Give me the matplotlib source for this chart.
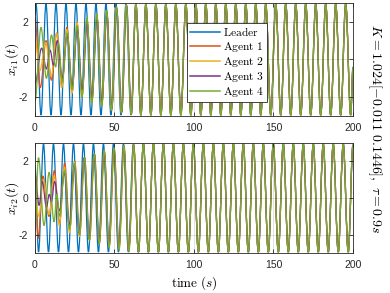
import matplotlib
matplotlib.use("Agg")
import matplotlib.pyplot as plt
from matplotlib.path import Path
from matplotlib.patches import PathPatch
from matplotlib.lines import Line2D

plt.rcParams["mathtext.fontset"] = "cm"
plt.rcParams["font.family"] = ["Liberation Sans", "DejaVu Sans"]
plt.rcParams["axes.unicode_minus"] = False

COLORS = ["#0072BD", "#D95319", "#EDB120", "#7E2F8E", "#77AC30"]
LABELS = ["Leader", "Agent 1", "Agent 2", "Agent 3", "Agent 4"]

# leader, x_01: turning points (t in s)
LEAD1_T = [0, 0.65, 3.79, 6.93, 10.07, 13.22, 16.36, 19.50, 22.64, 25.78, 28.92,
           32.07, 35.21, 38.35, 41.49, 44.63, 47.77, 50.92, 54.06, 57.20, 60.34,
           63.48, 66.62, 69.77, 72.91, 76.05, 79.19, 82.33, 85.47, 88.61, 91.76,
           94.90, 98.04, 101.18, 104.32, 107.46, 110.61, 113.75, 116.89, 120.03,
           123.17, 126.31, 129.46, 132.60, 135.74, 138.88, 142.02, 145.16, 148.30,
           151.45, 154.59, 157.73, 160.87, 164.01, 167.15, 170.30, 173.44, 176.58,
           179.72, 182.86, 186.00, 189.15, 192.29, 195.43, 198.57, 200]
LEAD1_V = [2.35] + [2.95, -2.95] * 32 + [-0.4]

# leader, x_02
LEAD2_T = [0, 2.22, 5.36, 8.50, 11.64, 14.79, 17.93, 21.07, 24.21, 27.35, 30.49,
           33.64, 36.78, 39.92, 43.06, 46.20, 49.34, 52.49, 55.63, 58.77, 61.91,
           65.05, 68.19, 71.34, 74.48, 77.62, 80.76, 83.90, 87.04, 90.18, 93.33,
           96.47, 99.61, 102.75, 105.89, 109.03, 112.18, 115.32, 118.46, 121.60,
           124.74, 127.88, 131.03, 134.17, 137.31, 140.45, 143.59, 146.73, 149.87,
           153.02, 156.16, 159.30, 162.44, 165.58, 168.72, 171.87, 175.01, 178.15,
           181.29, 184.43, 187.57, 190.72, 193.86, 197.00, 200]
LEAD2_V = [1.8] + [-2.95, 2.95] * 31 + [-2.95, 2.9]

# agents, x_i1 transient (after ~62 s they sit on the leader)
A1_T1 = [0, 3.3, 7.0, 10.4, 13.7, 16.9, 20.1, 23.3, 26.5, 29.6, 32.7, 35.8, 38.9,
         42.0, 45.1, 48.2, 51.3, 54.4, 57.5, 60.5]
A1_V1 = [2.2, -1.5, 1.0, -1.1, 1.4, -1.4, 1.7, -1.7, 1.9, -1.9, 2.1, -2.2, 2.3,
         -2.4, 2.5, -2.6, 2.7, -2.8, 2.85, -2.9]
A2_T1 = [0, 3.0, 6.8, 10.2, 13.6, 16.8, 20.0, 23.2, 26.4, 29.5, 32.6, 35.7, 38.8,
         41.9, 45.0, 48.1, 51.2, 54.3, 57.4, 60.5]
A2_V1 = [1.1, -0.6, 0.9, -0.9, 1.4, -1.5, 1.6, -1.8, 2.0, -2.0, 2.2, -2.3, 2.4,
         -2.4, 2.6, -2.7, 2.75, -2.8, 2.9, -2.9]
A3_T1 = [0, 4.2, 7.2, 9.5, 11.6, 14.0, 17.2, 20.2, 23.4, 26.6, 29.7, 32.8, 35.9,
         39.0, 42.1, 45.2, 48.3, 51.4, 54.5, 57.6, 60.6]
A3_V1 = [-1.3, 0.6, -0.5, 0.5, -0.3, 1.0, -1.0, 1.3, -1.4, 1.6, -1.6, 1.9, -2.0,
         2.2, -2.3, 2.5, -2.6, 2.7, -2.8, 2.85, -2.9]
A4_T1 = [0, 3.8, 7.2, 10.4, 13.0, 14.8, 17.2, 20.3, 23.4, 26.5, 29.6, 32.7, 35.8,
         38.9, 42.0, 45.1, 48.2, 51.3, 54.4, 57.5, 60.5]
A4_V1 = [-2.2, 1.7, -1.0, 1.3, -0.4, 0.9, -1.2, 1.4, -1.6, 1.8, -2.0, 2.2, -2.3,
         2.4, -2.5, 2.6, -2.7, 2.8, -2.85, 2.9, -2.9]

# agents, x_i2 transient
A1_T2 = [0, 2.0, 5.0, 8.8, 12.2, 15.4, 18.7, 21.9, 25.0, 28.1, 31.2, 34.3, 37.4,
         40.5, 43.6, 46.7, 49.8, 52.9, 56.0, 59.1, 62.1]
A1_V2 = [1.4, -2.2, 1.2, -1.0, 1.5, -1.4, 1.9, -1.7, 2.0, -2.0, 2.2, -2.3, 2.4,
         -2.4, 2.5, -2.6, 2.7, -2.8, 2.85, -2.9, 2.9]
A2_T2 = [0, 2.4, 5.4, 8.9, 12.1, 15.3, 18.5, 21.7, 24.8, 27.9, 31.0, 34.2, 37.3,
         40.4, 43.5, 46.6, 49.7, 52.8, 55.9, 59.0, 62.1]
A2_V2 = [0.3, -1.0, 1.0, -0.9, 1.2, -1.5, 1.7, -1.9, 2.0, -2.1, 2.2, -2.3, 2.4,
         -2.5, 2.6, -2.6, 2.7, -2.8, 2.85, -2.9, 2.9]
A3_T2 = [0, 2.6, 4.6, 7.2, 9.0, 10.4, 12.3, 15.4, 18.5, 21.6, 24.7, 27.8, 30.9,
         34.0, 37.2, 40.3, 43.4, 46.5, 49.6, 52.7, 55.8, 58.9, 62.0]
A3_V2 = [1.3, -0.4, 0.9, -0.5, 0.2, -0.2, 0.9, -0.7, 1.4, -1.5, 1.8, -1.9, 2.2,
         -2.2, 2.4, -2.5, 2.6, -2.7, 2.75, -2.8, 2.85, -2.9, 2.9]
A4_T2 = [0, 2.2, 5.7, 8.9, 12.0, 13.8, 15.5, 18.6, 21.8, 24.9, 28.0, 31.1, 34.2,
         37.3, 40.4, 43.5, 46.6, 49.7, 52.8, 55.9, 59.0, 62.0]
A4_V2 = [-1.8, 2.2, -1.5, 1.4, -1.3, 0.2, -1.0, 1.5, -1.7, 1.9, -2.0, 2.2, -2.3,
         2.4, -2.5, 2.6, -2.7, 2.75, -2.8, 2.85, -2.9, 2.9]

XTICKS = [0, 50, 100, 150, 200]
YTICKS = [-2, 0, 2]


def with_leader(t, v, lt, lv):
    # after the transient the agent follows the leader
    tail = [(a, b) for a, b in zip(lt, lv) if a > t[-1] + 1.5]
    return t + [a for a, _ in tail], v + [b for _, b in tail]


def wave(t, v):
    # smooth curve through the turning points (flat tangent at each one)
    verts = [(t[0], v[0])]
    codes = [Path.MOVETO]
    for i in range(len(t) - 1):
        h = 0.364 * (t[i + 1] - t[i])
        verts += [(t[i] + h, v[i]), (t[i + 1] - h, v[i + 1]), (t[i + 1], v[i + 1])]
        codes += [Path.CURVE4] * 3
    return Path(verts, codes)


panels = [
    (LEAD1_T, LEAD1_V, [(A1_T1, A1_V1), (A2_T1, A2_V1), (A3_T1, A3_V1), (A4_T1, A4_V1)],
     r"$x_{i1}(t)$"),
    (LEAD2_T, LEAD2_V, [(A1_T2, A1_V2), (A2_T2, A2_V2), (A3_T2, A3_V2), (A4_T2, A4_V2)],
     r"$x_{i2}(t)$"),
]

fig = plt.figure(figsize=(3.9, 2.93), dpi=100)
ax1 = fig.add_axes([0.0897, 0.604, 0.8154, 0.386])
ax2 = fig.add_axes([0.0897, 0.1365, 0.8154, 0.3754])

dark = "#262626"
LW = 0.9
for ax, (lt, lv, agents, ylab) in zip([ax1, ax2], panels):
    series = [(lt, lv)] + [with_leader(at, av, lt, lv) for at, av in agents]
    for k, (tt, vv) in enumerate(series):
        ax.add_patch(PathPatch(wave(tt, vv), facecolor="none", edgecolor=COLORS[k],
                               lw=LW, zorder=2))
    ax.set_xlim(0, 200)
    ax.set_ylim(-3, 3)
    ax.set_xticks(XTICKS)
    ax.set_yticks(YTICKS)
    ax.grid(True, color=dark, alpha=0.15, lw=0.6)
    ax.set_axisbelow(False)
    ax.tick_params(direction="in", length=3, width=0.6, colors=dark,
                   labelsize=7.5, top=True, right=True, pad=5)
    for s in ax.spines.values():
        s.set_color(dark)
        s.set_linewidth(0.6)
    ax.set_ylabel(ylab, fontsize=10)
    ax.yaxis.set_label_coords(-0.045, 0.5)

ax2.set_xlabel(r"$\mathrm{time}\ (s)$", fontsize=9.5, labelpad=3)

handles = [Line2D([], [], color=c, lw=LW + 0.2) for c in COLORS]
names = [r"$\mathrm{%s}$" % s.replace(" ", r"\ ") for s in LABELS]
leg = ax1.legend(handles, names, loc="upper left", bbox_to_anchor=(0.478, 0.823),
                 fontsize=8.3, fancybox=False, framealpha=1, edgecolor=dark,
                 handlelength=2.6, labelspacing=0.1, borderpad=0.25,
                 handletextpad=0.3, borderaxespad=0)
leg.get_frame().set_linewidth(0.6)

fig.text(0.962, 0.56, r"$K=1.024[-0.011\ 0.1446],\ \tau=0.9s$", rotation=-90,
         ha="center", va="center", fontsize=10)

fig.savefig("out.png", dpi=100)
